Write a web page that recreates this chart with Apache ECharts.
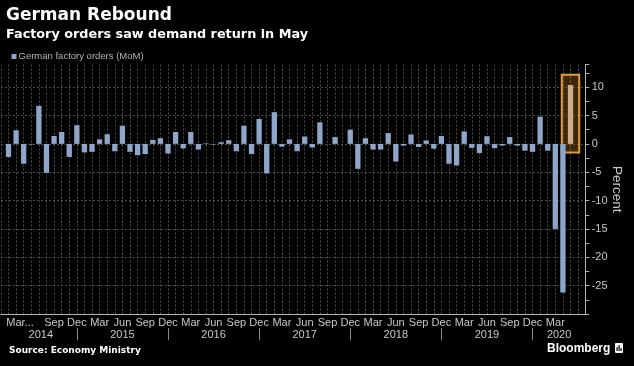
<!DOCTYPE html>
<html><head><meta charset="utf-8">
<style>html,body{margin:0;padding:0;background:#000;}#c{width:634px;height:366px;}</style>
<script src="https://cdn.jsdelivr.net/npm/echarts@6/dist/echarts.min.js"></script>
</head><body><div id="c"></div>
<script>
// ---------- data ----------
const months = [];
for (let y = 2014; y <= 2020; y++) for (let m = 1; m <= 12; m++) {
  if ((y === 2014 && m < 3) || (y === 2020 && m > 5)) continue;
  months.push(y + '-' + String(m).padStart(2, '0'));
}
const monthNames = ['Jan','Feb','Mar','Apr','May','Jun','Jul','Aug','Sep','Oct','Nov','Dec'];
const orders = [
  -2.3, 2.4, -3.5, -0.1, 6.7, -5.1, 1.4, 2.1, -2.3, 3.3,
  -1.5, -1.4, 0.8, 1.7, -1.3, 3.2, -1.4, -2.0, -1.8, 0.7, 1.0, -1.7,
  2.1, -0.8, 2.1, -1.0, 0.1, -0.1, 0.3, 0.65, -1.3, 3.2, -1.8, 4.4,
  -5.2, 5.6, -0.5, 0.8, -1.3, 1.3, -0.65, 3.8, 0.0, 1.2, 0.0, 2.5,
  -4.4, 1.0, -1.0, -1.0, 1.9, -3.1, -0.3, 1.65, -0.55, 0.6, -0.85, 1.4,
  -3.5, -3.8, 2.2, -0.7, -1.6, 1.35, -0.75, -0.3, 1.2, -0.3, -1.2, -1.4,
  4.8, -1.2, -15.0, -26.2, 10.4
];
const monthTicks = ['2014-03','2014-09','2014-12',
  '2015-03','2015-06','2015-09','2015-12','2016-03','2016-06','2016-09','2016-12',
  '2017-03','2017-06','2017-09','2017-12','2018-03','2018-06','2018-09','2018-12',
  '2019-03','2019-06','2019-09','2019-12','2020-03'];
const firstTickLabel = 'Mar...';
const years = ['2014','2015','2016','2017','2018','2019','2020'];
const seriesName = 'German factory orders (MoM)';
const yMin = -30, yMax = 14, yStep = 5;
const highlightMonth = '2020-05';
const highlightRange = [12.2, -1.5];

// ---------- layout ----------
const W = 634, H = 366;
const gridLeft = 0.9, gridRight = 48.3, gridTop = 64.5, gridBottom = 52;
const cats = ['_p0', ...months, '_p1', '_p2'];
const catOf = m => months.indexOf(m) + 1;
const band = (W - gridLeft - gridRight) / (cats.length - 1);
const decCats = years.slice(0, -1).map(y => catOf(y + '-12'));
const yearAnchor = {}; const yearRich = {};
years.forEach((y, k) => {
  const s = k === 0 ? catOf(months[0]) - 0.5 : decCats[k - 1];
  const e = k === years.length - 1 ? cats.length - 1 : decCats[k];
  const mid = (s + e) / 2, base = Math.floor(mid);
  yearAnchor[cats[base]] = k;
  yearRich['y' + k] = { padding: [0, 0, 0, 2 * (mid - base) * band] };
});
const decSet = new Set(decCats.map(i => cats[i]));
const tickSet = new Set(monthTicks);

const FONT = '"Liberation Sans", Arial, sans-serif';
const FONT_B = '"DejaVu Sans", sans-serif';
const BAR = '#8ea6ca', BAR_HI = '#c9ae88';
const GRID_C = '#4f4f4f', AXIS_C = '#b5b5b5', LABEL_C = '#c8c8c8';

const chart = echarts.init(document.getElementById('c'), null, { renderer: 'canvas' });
chart.setOption({
  backgroundColor: '#000',
  animation: false,
  title: [
    { text: 'German Rebound', left: 6, top: 7.5, padding: 0,
      textStyle: { color: '#fff', fontFamily: FONT_B, fontWeight: 'bold', fontSize: 17 } },
    { text: 'Factory orders saw demand return in May', left: 6, top: 28.5, padding: 0,
      textStyle: { color: '#fff', fontFamily: FONT_B, fontWeight: 'bold', fontSize: 12.8 } }
  ],
  legend: {
    data: [{ name: seriesName, itemStyle: { color: BAR } }], left: 11.5, top: 51.5, padding: 0, icon: 'rect',
    itemWidth: 5, itemHeight: 5,
    textStyle: { color: '#b4b4b4', fontFamily: FONT, fontSize: 9.5, padding: [0, 0, 0, -3] }
  },
  grid: { left: gridLeft, right: gridRight, top: gridTop, bottom: gridBottom,
    containLabel: false, outerBoundsMode: 'none' },
  xAxis: [
    { type: 'category', data: cats, boundaryGap: false,
      axisLine: { onZero: false, lineStyle: { color: AXIS_C, width: 1 } },
      axisTick: { show: false },
      splitLine: { show: true, interval: 0, lineStyle: { color: GRID_C, type: [2, 2], width: 1 } },
      axisLabel: {
        interval: (i, v) => tickSet.has(v), margin: 3,
        color: LABEL_C, fontFamily: FONT, fontSize: 11,
        formatter: v => v === months[0] ? '{f|' + firstTickLabel + '}' : monthNames[+v.slice(5) - 1],
        rich: { f: { padding: [0, 0, 0, 23], color: LABEL_C, fontFamily: FONT, fontSize: 11 } }
      } },
    { type: 'category', data: cats, boundaryGap: false, position: 'bottom', offset: 14,
      axisLine: { show: false, onZero: false },
      axisTick: { show: true, interval: (i, v) => decSet.has(v), length: 12, lineStyle: { color: '#8a8a8a' } },
      splitLine: { show: false },
      axisLabel: {
        interval: (i, v) => v in yearAnchor, margin: 1,
        color: LABEL_C, fontFamily: FONT, fontSize: 11,
        formatter: v => (v in yearAnchor) ? '{y' + yearAnchor[v] + '|' + years[yearAnchor[v]] + '}' : '',
        rich: Object.fromEntries(Object.entries(yearRich).map(([k, r]) =>
          [k, Object.assign({ color: LABEL_C, fontFamily: FONT, fontSize: 11 }, r)]))
      } }
  ],
  yAxis: {
    type: 'value', position: 'right', min: yMin, max: yMax, interval: yStep,
    name: 'Percent', nameLocation: 'middle', nameRotate: -90, nameGap: 24, nameMoveOverlap: false,
    nameTextStyle: { color: LABEL_C, fontFamily: FONT, fontSize: 13.5 },
    axisLine: { show: true, lineStyle: { color: AXIS_C } },
    axisTick: { show: true, length: 3.5, lineStyle: { color: AXIS_C } },
    minorTick: { show: true, splitNumber: 2, length: 3.5, lineStyle: { color: AXIS_C } },
    axisLabel: { color: LABEL_C, fontFamily: FONT, fontSize: 11, margin: 6,
      showMinLabel: false, showMaxLabel: false },
    splitLine: { show: true, showMaxLine: false, showMinLine: false,
      lineStyle: { color: GRID_C, type: [2, 2] } }
  },
  series: [
    { type: 'custom', name: 'highlight', z: 1, silent: true,
      data: [[catOf(highlightMonth), highlightRange[0], highlightRange[1]]],
      renderItem: (params, api) => {
        const top = api.coord([api.value(0), api.value(1)]);
        const bot = api.coord([api.value(0), api.value(2)]);
        const w = api.size([1, 0])[0] * 2.3;
        return { type: 'rect',
          shape: { x: top[0] - w / 2, y: top[1], width: w, height: bot[1] - top[1] },
          style: { fill: 'rgba(205,125,30,0.30)', stroke: '#e39a35', lineWidth: 2 } };
      } },
    { type: 'bar', name: seriesName, z: 2, barWidth: 5.3,
      data: [null, ...orders, null, null],
      itemStyle: { color: p => cats[p.dataIndex] === highlightMonth ? BAR_HI : BAR } }
  ],
  graphic: [
    { type: 'text', left: 9, top: 346, style: { text: 'Source: Economy Ministry', fill: '#fff',
      font: 'bold 9px ' + FONT_B } },
    { type: 'text', left: 547, top: 342.5, style: { text: 'Bloomberg', fill: '#fff',
      font: 'bold 12px ' + FONT } },
    { type: 'group', left: 615, top: 343, children: [
      { type: 'rect', shape: { x: 0, y: 0, width: 8, height: 10, r: 1 }, style: { fill: '#fff' } },
      { type: 'rect', shape: { x: 1.5, y: 4, width: 1.2, height: 4 }, style: { fill: '#000' } },
      { type: 'rect', shape: { x: 3.5, y: 2, width: 1.2, height: 6 }, style: { fill: '#000' } },
      { type: 'rect', shape: { x: 5.5, y: 5, width: 1.2, height: 3 }, style: { fill: '#000' } }
    ] }
  ]
});
</script></body></html>
